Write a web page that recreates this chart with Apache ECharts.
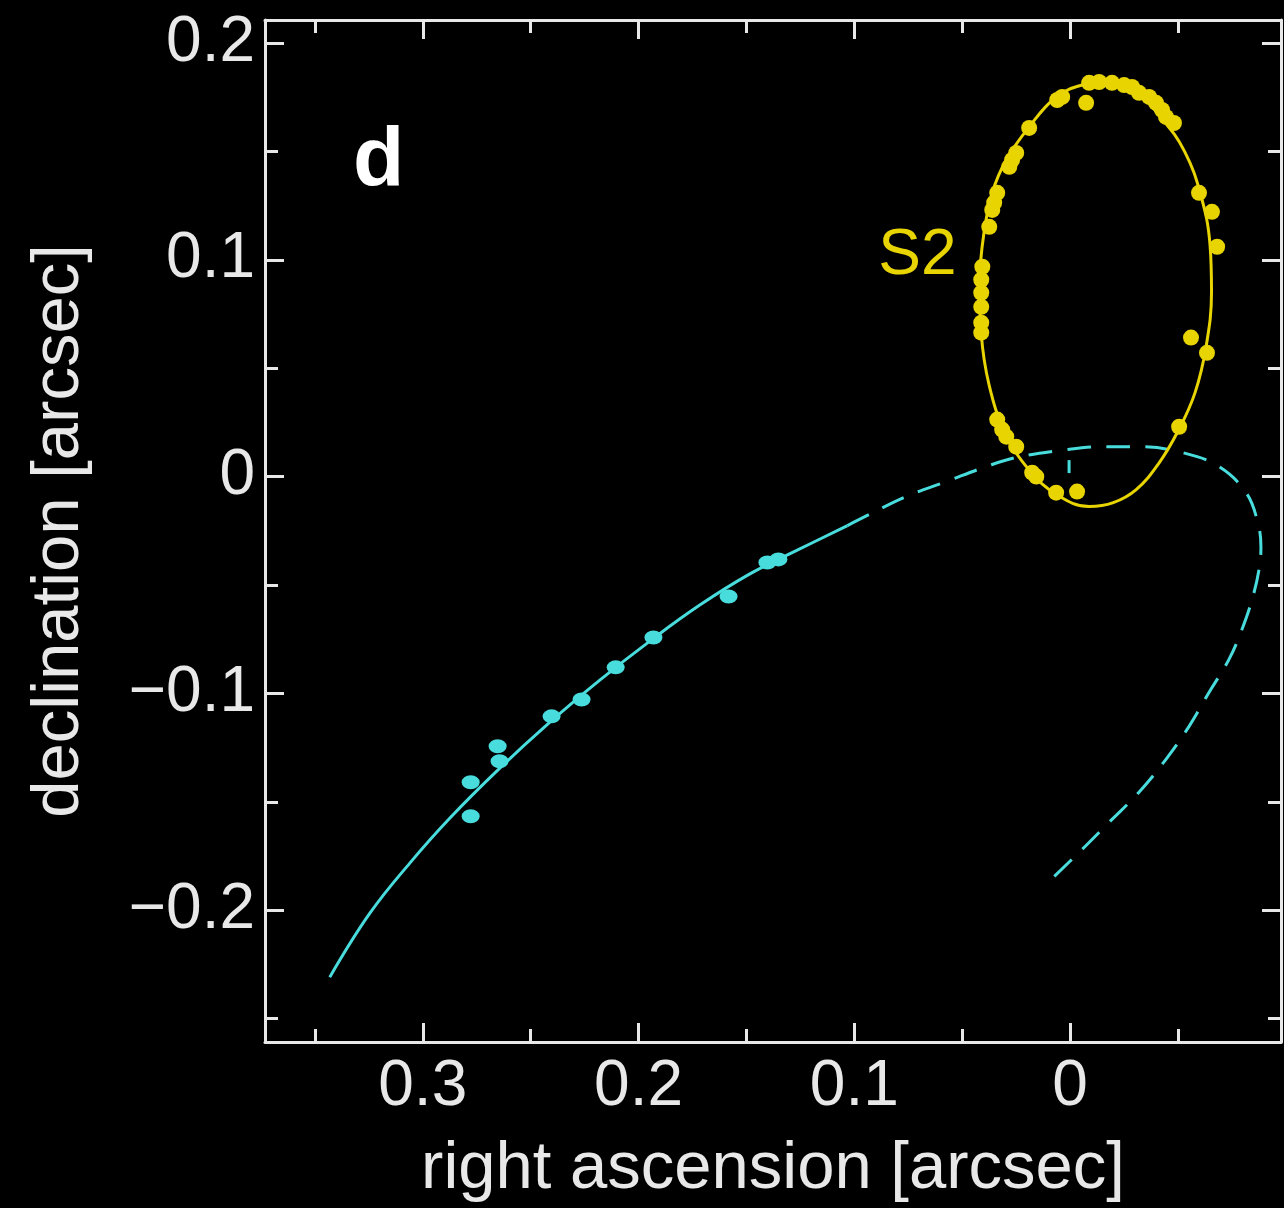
<!DOCTYPE html>
<html lang="en">
<head>
<meta charset="UTF-8">
<title>S2 orbit</title>
<script src="https://cdn.jsdelivr.net/npm/echarts@6/dist/echarts.min.js"></script>
<style>
    html, body { margin: 0; background: #000; }
    #chart { width: 1284px; height: 1208px; }
</style>
</head>
<body>
<div id="chart"></div>
<script>
// axis ranges (RA runs right to left)
var xRange = [-0.0977, 0.3731];
var yRange = [-0.2608, 0.2106];

// S2: fitted orbit (closed) and measured positions [ra, dec]
var s2Orbit = [
    [-0.0181, 0.1820], [-0.0056, 0.1806], [0.0065, 0.1751], [0.0190, 0.1613],
    [0.0296, 0.1461], [0.0361, 0.1309], [0.0400, 0.1120], [0.0419, 0.0900],
    [0.0412, 0.0660], [0.0375, 0.0420], [0.0300, 0.0200], [0.0190, 0.0030],
    [0.0060, -0.0085], [-0.0088, -0.0138], [-0.0200, -0.0120], [-0.0306, -0.0060],
    [-0.0410, 0.0060], [-0.0500, 0.0210], [-0.0578, 0.0385], [-0.0630, 0.0600],
    [-0.0655, 0.0850], [-0.0648, 0.1070], [-0.0605, 0.1300], [-0.0530, 0.1500],
    [-0.0426, 0.1650], [-0.0306, 0.1770], [-0.0181, 0.1820]
];
var s2Points = [
    [0.0037, 0.1751], [0.0060, 0.1737], [-0.0074, 0.1724], [-0.0088, 0.1816],
    [-0.0134, 0.1820], [-0.0194, 0.1816], [-0.0250, 0.1806], [-0.0287, 0.1797],
    [-0.0319, 0.1770], [-0.0366, 0.1751], [-0.0398, 0.1724], [-0.0426, 0.1691],
    [-0.0444, 0.1659], [-0.0481, 0.1631], [0.0190, 0.1608], [0.0250, 0.1493],
    [0.0269, 0.1461], [0.0282, 0.1429], [0.0338, 0.1309], [0.0352, 0.1263],
    [0.0361, 0.1230], [0.0375, 0.1152], [0.0407, 0.0968], [0.0412, 0.0908],
    [0.0412, 0.0848], [0.0412, 0.0783], [0.0412, 0.0710], [0.0412, 0.0664],
    [-0.0597, 0.1309], [-0.0657, 0.1221], [-0.0681, 0.1060], [-0.0560, 0.0641],
    [-0.0634, 0.0571], [-0.0505, 0.0230], [0.0338, 0.0263], [0.0315, 0.0217],
    [0.0296, 0.0184], [0.0250, 0.0138], [0.0176, 0.0018], [0.0157, 0.0000],
    [0.0065, -0.0074], [-0.0032, -0.0069]
];
var s2Label = [[0.0708, 0.1018]];

// second star: observed arc (solid) and predicted continuation (dashed)
var cyanOrbitSeen = [
    [0.3431, -0.2309], [0.3245, -0.2014], [0.3060, -0.1783], [0.2875, -0.1576],
    [0.2644, -0.1346], [0.2412, -0.1134], [0.2181, -0.0940], [0.1949, -0.0760],
    [0.1718, -0.0594], [0.1486, -0.0450], [0.1255, -0.0335], [0.1032, -0.0226]
];
var cyanOrbitPredicted = [
    [0.1032, -0.0226], [0.0931, -0.0175], [0.0759, -0.0092], [0.0574, -0.0023],
    [0.0389, 0.0046], [0.0250, 0.0088], [0.0037, 0.0122], [-0.0148, 0.0138],
    [-0.0319, 0.0138], [-0.0519, 0.0111], [-0.0690, 0.0046], [-0.0815, -0.0074],
    [-0.0866, -0.0198], [-0.0884, -0.0323], [-0.0875, -0.0429], [-0.0843, -0.0567],
    [-0.0796, -0.0705], [-0.0736, -0.0843], [-0.0644, -0.0995], [-0.0551, -0.1152],
    [-0.0444, -0.1304], [-0.0319, -0.1456], [-0.0181, -0.1594], [-0.0056, -0.1719],
    [0.0120, -0.1889]
];
var cyanPoints = [
    [0.2778, -0.1410], [0.2778, -0.1567], [0.2653, -0.1244], [0.2644, -0.1313],
    [0.2403, -0.1106], [0.2264, -0.1028], [0.2106, -0.0880], [0.1931, -0.0742],
    [0.1583, -0.0553], [0.1403, -0.0396], [0.1352, -0.0382]
];
var centreMark = [[0.0005, 0.0046]];

var WHITE = '#e8e8e8', YELLOW = '#e8d400', CYAN = '#48dcdc';
var FONT = 'Liberation Sans, Arial, Helvetica, sans-serif';

// only label the 0.1 steps, drop the edge values
function tickText(v) {
    var r = Math.round(v * 10) / 10;
    if (Math.abs(v - r) > 1e-6) return '';
    if (r === 0) return '0';
    return String(r).replace('-', '\u2212');
}

function makeAxis(dim, pos, major, labeled) {
    var range = dim === 'x' ? xRange : yRange;
    var ax = {
        type: 'value',
        position: pos,
        min: range[0],
        max: range[1],
        inverse: dim === 'x',
        splitNumber: major ? 5 : 10,
        splitLine: { show: false },
        axisLine: { show: major, onZero: false, lineStyle: { color: WHITE, width: 3 } },
        axisTick: { show: true, inside: true, length: major ? 19 : 13, lineStyle: { color: WHITE, width: 3 } },
        axisLabel: { show: false }
    };
    if (labeled) {
        ax.axisLabel = {
            show: true, color: WHITE, fontSize: 64, fontFamily: FONT,
            margin: dim === 'x' ? 13 : 10, formatter: tickText
        };
        ax.name = dim === 'x' ? 'right ascension [arcsec]' : 'declination [arcsec]';
        ax.nameLocation = 'middle';
        ax.nameGap = dim === 'x' ? 94 : 172;
        ax.nameTextStyle = { color: WHITE, fontSize: 67, fontFamily: FONT };
    }
    return ax;
}

var chart = echarts.init(document.getElementById('chart'));
chart.setOption({
    backgroundColor: '#000',
    animation: false,
    title: {
        text: 'd', left: 348, top: 116,
        textStyle: { color: '#ffffff', fontSize: 84, fontWeight: 'bold', fontFamily: FONT }
    },
    grid: { left: 265, right: 2, top: 20, bottom: 165 },
    xAxis: [
        makeAxis('x', 'bottom', true, true),
        makeAxis('x', 'bottom', false, false),
        makeAxis('x', 'top', true, false),
        makeAxis('x', 'top', false, false)
    ],
    yAxis: [
        makeAxis('y', 'left', true, true),
        makeAxis('y', 'left', false, false),
        makeAxis('y', 'right', true, false),
        makeAxis('y', 'right', false, false)
    ],
    series: [
        {
            type: 'line', data: cyanOrbitPredicted, smooth: 0.4, showSymbol: false,
            lineStyle: { color: CYAN, width: 3, type: [24, 15] }
        },
        {
            type: 'line', data: cyanOrbitSeen, smooth: 0.4, showSymbol: false,
            lineStyle: { color: CYAN, width: 3 }
        },
        {
            type: 'scatter', data: cyanPoints, symbolSize: [18, 14],
            itemStyle: { color: CYAN, opacity: 1 }
        },
        {
            type: 'scatter', data: centreMark, symbol: 'rect', symbolSize: [3, 13],
            itemStyle: { color: CYAN, opacity: 1 }
        },
        {
            type: 'line', data: s2Orbit, smooth: 0.4, showSymbol: false,
            lineStyle: { color: YELLOW, width: 3 }
        },
        {
            type: 'scatter', data: s2Points, symbolSize: 16,
            itemStyle: { color: YELLOW, opacity: 1 }
        },
        {
            type: 'scatter', data: s2Label, symbolSize: 1,
            itemStyle: { color: 'rgba(0,0,0,0)', opacity: 1 },
            label: {
                show: true, position: 'inside', formatter: 'S2',
                color: YELLOW, fontSize: 64, fontFamily: FONT
            }
        }
    ]
});
window.onresize = function () { chart.resize(); };
</script>
</body>
</html>
